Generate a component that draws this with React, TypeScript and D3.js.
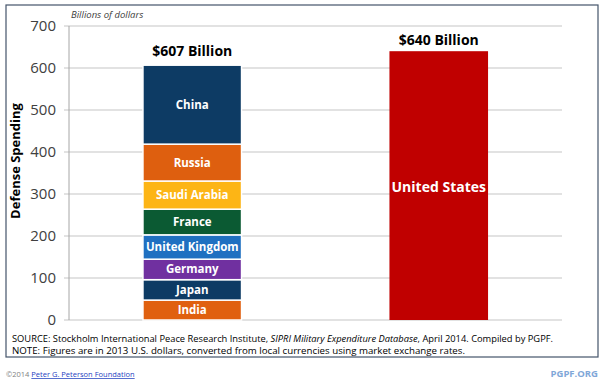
import React from "react";
import * as d3 from "d3";

const countries = ["India", "Japan", "Germany", "United Kingdom", "France", "Saudi Arabia", "Russia", "China"];
const spending = [47.4, 48.6, 48.8, 57.9, 61.2, 67.0, 87.8, 188.0];
const countryColors = ["#e0600f", "#0d3b64", "#7030a0", "#1f70c1", "#0b5a33", "#fdb515", "#de5f0f", "#0d3b64"];
const usLabel = "United States";
const usSpending = 640;
const groups = ["Others", "US"];
const totalLabels = ["$607 Billion", "$640 Billion"];
const yTicks = [0, 100, 200, 300, 400, 500, 600, 700];

const FONT = "'Open Sans', 'Noto Sans', Arial, sans-serif";

export default function App() {
  const W = 607, H = 386;
  const y = d3.scaleLinear().domain([0, 700]).range([320, 26]);
  const x = d3.scaleBand().domain(groups).range([69, 562]).paddingInner(0.6).paddingOuter(0.3);
  const stack: { name: string; v0: number; v1: number; color: string }[] = [];
  let acc = 0;
  countries.forEach((c, i) => {
    stack.push({ name: c, v0: acc, v1: acc + spending[i], color: countryColors[i] });
    acc += spending[i];
  });
  const bw = x.bandwidth();
  const x0 = x("Others")!;
  const x1 = x("US")!;
  return (
    <svg width={W} height={H} style={{ position: "absolute", left: 0, top: 0, background: "#fff" }}>
      <rect x={0} y={0} width={W} height={H} fill="#fff" />
      <rect x={6} y={5} width={592} height={352} fill="none" stroke="#44546a" strokeWidth={1.2} />
      <text x={71} y={18} fontFamily={FONT} fontSize={9.5} fontStyle="italic" fill="#404040">Billions of dollars</text>
      {yTicks.map((t) => (
        <g key={t}>
          <line x1={64} x2={562} y1={y(t)} y2={y(t)} stroke="#d9d9d9" strokeWidth={1.5} />
          <text x={56} y={y(t)} dy="0.35em" textAnchor="end" fontFamily={FONT} fontSize={15} fill="#404040">{t}</text>
        </g>
      ))}
      <line x1={69} x2={69} y1={y(700)} y2={y(0)} stroke="#a6a6a6" strokeWidth={1} />
      <text transform={`translate(20,${161}) rotate(-90)`} textAnchor="middle" fontFamily={FONT} fontSize={13} fontWeight="bold" fill="#000">Defense Spending</text>
      {stack.map((s) => (
        <g key={s.name}>
          <rect x={x0} y={y(s.v1)} width={bw} height={y(s.v0) - y(s.v1)} fill={s.color} stroke="#fff" strokeWidth={1.5} />
          <text x={x0 + bw / 2} y={(y(s.v0) + y(s.v1)) / 2} dy="0.35em" textAnchor="middle" fontFamily={FONT} fontSize={11.5} fontWeight="bold" fill="#fff">{s.name}</text>
        </g>
      ))}
      <rect x={x1} y={y(usSpending)} width={bw} height={y(0) - y(usSpending)} fill="#c00000" />
      <text x={x1 + bw / 2} y={y(usSpending / 2) + 1} dy="0.35em" textAnchor="middle" fontFamily={FONT} fontSize={14} fontWeight="bold" fill="#fff">{usLabel}</text>
      <text x={x0 + bw / 2} y={51} dy="0.35em" textAnchor="middle" fontFamily={FONT} fontSize={14} fontWeight="bold" fill="#000">{totalLabels[0]}</text>
      <text x={x1 + bw / 2} y={y(usSpending) - 11} dy="0.35em" textAnchor="middle" fontFamily={FONT} fontSize={14} fontWeight="bold" fill="#000">{totalLabels[1]}</text>
      <text x={12} y={341.5} fontFamily={FONT} fontSize={9.5} fill="#000" textLength={541} lengthAdjust="spacingAndGlyphs">
        SOURCE: Stockholm International Peace Research Institute, <tspan fontStyle="italic">SIPRI Military Expenditure Database</tspan>, April 2014. Compiled by PGPF.
      </text>
      <text x={12} y={354} fontFamily={FONT} fontSize={9.5} fill="#000" textLength={453} lengthAdjust="spacingAndGlyphs">
        NOTE: Figures are in 2013 U.S. dollars, converted from local currencies using market exchange rates.
      </text>
      <text x={6} y={377} fontFamily={FONT} fontSize={7.5} fill="#7f7f7f">
        ©2014 <tspan fill="#1f3fbf" style={{ textDecoration: "underline" }}>Peter G. Peterson Foundation</tspan>
      </text>
      <text x={598} y={377} textAnchor="end" fontFamily={FONT} fontSize={9.5} fontWeight="bold" fill="#7fa7d8">PGPF.ORG</text>
    </svg>
  );
}
